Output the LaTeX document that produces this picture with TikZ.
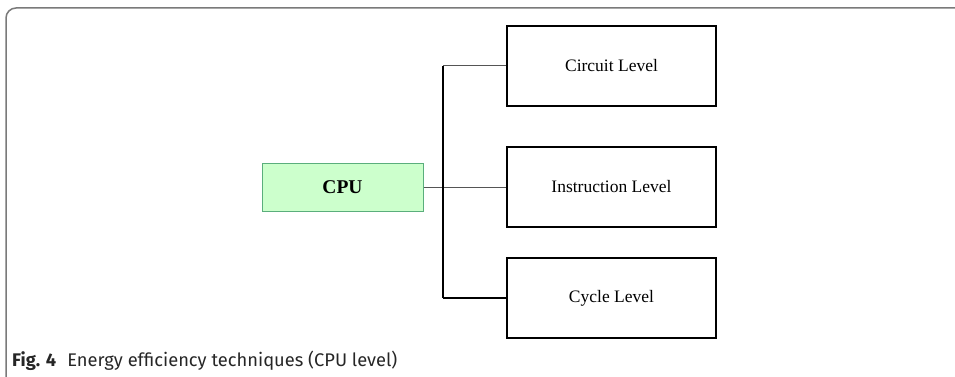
\documentclass[tikz,border=0pt]{standalone}
\usepackage{fontspec}
\setmainfont{Liberation Serif}
\newfontfamily\capfont{Fira Sans}
\definecolor{framegray}{HTML}{7A7A7A}
\definecolor{cpufill}{HTML}{CCFFCC}
\definecolor{cpudraw}{HTML}{5AAE7C}
\definecolor{linkgray}{HTML}{555555}
\tikzset{
  lvlbox/.style={draw=black, line width=1.3pt, minimum width=209pt, minimum height=80pt, inner sep=0pt, font=\fontsize{17.5}{20}\selectfont},
  cpubox/.style={draw=cpudraw, fill=cpufill, line width=1pt, minimum width=161pt, minimum height=48pt, inner sep=0pt, font=\fontsize{19.5}{22}\selectfont\bfseries},
  trunk/.style={draw=black, line width=1.3pt},
  link/.style={draw=linkgray, line width=1pt},
}
\begin{document}
\begin{tikzpicture}[x=1pt,y=-1pt]
\useasboundingbox (0,0) rectangle (955,377);
\draw[framegray, line width=1.5pt, rounded corners=10pt] (6,378) -- (6,8) -- (956,8);
\node[lvlbox] (circ) at (611.5,66) {Circuit Level};
\node[lvlbox] (instr) at (611.5,187) {Instruction Level};
\node[lvlbox] (cyc) at (611.5,298) {Cycle Level};
\node[cpubox] (cpu) at (342.5,187) {CPU};
\coordinate (jt) at (443,66);
\coordinate (jb) at (443,298);
\draw[link] (cpu.east) -- (instr.west);
\draw[trunk] (jt) -- (jb);
\draw[link] (jt) -- (circ.west);
\draw[trunk] (jb) -- (cyc.west);
\node[anchor=base west, inner sep=0pt, font=\capfont\fontsize{18.3}{20}\selectfont, text=black!85] (cap) at (12,366) {\textbf{Fig. 4}\hspace{0.6em}Energy efficiency techniques (CPU level)};
\end{tikzpicture}
\end{document}
